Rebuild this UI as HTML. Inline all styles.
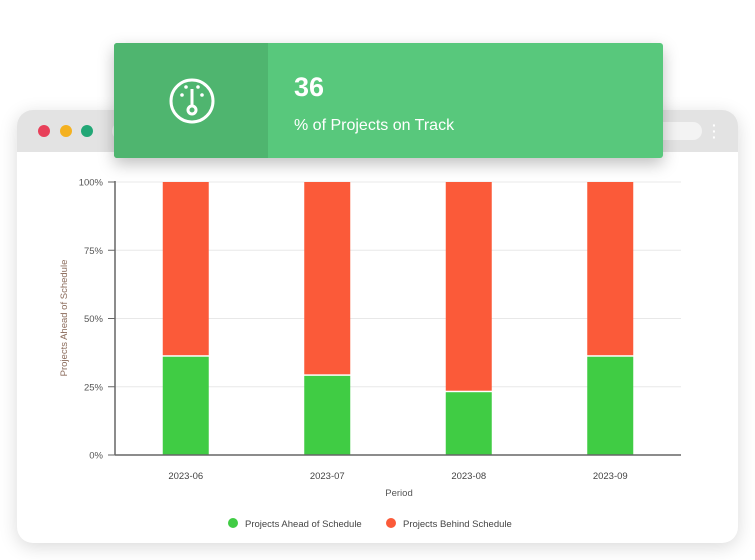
<!DOCTYPE html>
<html><head><meta charset="utf-8"><style>
body{margin:0;width:755px;height:560px;background:#fff;position:relative;overflow:hidden;font-family:"Liberation Sans",sans-serif}
.frame{position:absolute;left:17px;top:110px;width:721px;height:433px;border-radius:16px;background:#fff;box-shadow:0 4px 18px rgba(0,0,0,.15);overflow:hidden}
.hdr{position:absolute;left:0;top:0;width:100%;height:42px;background:#e3e3e3}
.dot{position:absolute;top:15px;width:12px;height:12px;border-radius:50%}
.addr{position:absolute;left:95px;top:12px;width:590px;height:18px;border-radius:9px;background:#f3f3f3}
.card{position:absolute;left:114px;top:43px;width:549px;height:115px;background:#58c87c;border-radius:3px;box-shadow:0 6px 16px rgba(0,0,0,.25)}
.card .l{position:absolute;left:0;top:0;width:154px;height:115px;background:#4fb56f;border-radius:3px 0 0 3px}
</style></head><body>
<div class="frame">
<div class="hdr">
<div class="dot" style="left:21px;background:#e8405a"></div>
<div class="dot" style="left:43px;background:#f4b120"></div>
<div class="dot" style="left:64px;background:#22a776"></div>
<div class="addr"></div>
<div style="position:absolute;left:695px;top:12px;color:#fff;font-size:14px;line-height:6px;font-weight:bold">·<br>·<br>·</div>
</div>
</div>
<div class="card">
<div class="l">
<svg width="154" height="115"><g fill="none" stroke="#fff" stroke-width="3"><circle cx="78" cy="58" r="21"/><line x1="78" y1="46" x2="78" y2="63"/><circle cx="78" cy="67" r="4"/></g><g fill="#fff"><circle cx="68" cy="52" r="1.8"/><circle cx="88" cy="52" r="1.8"/><circle cx="72" cy="44" r="1.8"/><circle cx="84" cy="44" r="1.8"/></g></svg>
</div>
<div style="position:absolute;left:180px;top:29px;color:#fff;font-size:27px;font-weight:bold">36</div>
<div style="position:absolute;left:180px;top:74px;color:#fff;font-size:16px">% of Projects on Track</div>
</div>
<svg id="chart" width="755" height="560" style="position:absolute;left:0;top:0"></svg>
<script>
const categories=["2023-06","2023-07","2023-08","2023-09"];
const ahead=[36,29,23,36];
const behind=[64,71,77,64];
const yTicks=[0,25,50,75,100];
const ns="http://www.w3.org/2000/svg",svg=document.getElementById("chart");
const X0=115,X1=681,Y0=455,Y1=182;
const y=v=>Y0-(v/100)*(Y0-Y1);
const band=(X1-X0)/categories.length;
const xc=i=>X0+band*(i+0.5);
function mk(t,a){const e=document.createElementNS(ns,t);for(const k in a)e.setAttribute(k,a[k]);svg.appendChild(e);return e;}
yTicks.forEach(t=>{
 if(t>0){const g=mk("line",{x1:X0,x2:X1,y1:y(t),y2:y(t),stroke:"#e8e8e8"});}
 const tk=mk("line",{x1:X0-7,x2:X0,y1:y(t),y2:y(t),stroke:"#666"});
 const l=mk("text",{x:X0-12,y:y(t)+3.5,"text-anchor":"end","font-size":"9.5",fill:"#555"});l.textContent=t+"%";
 
});
categories.forEach((c,i)=>{
 const w=46,x=xc(i)-w/2;
 const g=mk("rect",{x:x,y:y(ahead[i]),width:w,height:y(0)-y(ahead[i]),fill:"#40cc44"});
 
 const r=mk("rect",{x:x,y:y(ahead[i]+behind[i]),width:w,height:y(ahead[i])-y(ahead[i]+behind[i])-1.5,fill:"#fb5a39"});
 
 const l=mk("text",{x:xc(i),y:479,"text-anchor":"middle","font-size":"9.5",fill:"#444"});l.textContent=c;
 
});
const ax=mk("line",{x1:X0,x2:X0,y1:Y1-1,y2:Y0,stroke:"#666","stroke-width":1.5});
const bx=mk("line",{x1:X0,x2:X1,y1:Y0,y2:Y0,stroke:"#666","stroke-width":1.5});
const yt=mk("text",{x:0,y:0,transform:"translate(67,318) rotate(-90)","text-anchor":"middle","font-size":"9.5",fill:"#8a6a5a"});yt.textContent="Projects Ahead of Schedule";

const xt=mk("text",{x:399,y:496,"text-anchor":"middle","font-size":"9.5",fill:"#555"});xt.textContent="Period";

[[233,"#40cc44","Projects Ahead of Schedule"],[391,"#fb5a39","Projects Behind Schedule"]].forEach(([x,c,t])=>{
 const d=mk("circle",{cx:x,cy:523,r:5,fill:c});
 const l=mk("text",{x:x+12,y:527,"font-size":"9.5",fill:"#444"});l.textContent=t;
 
});
</script>
</body></html>
